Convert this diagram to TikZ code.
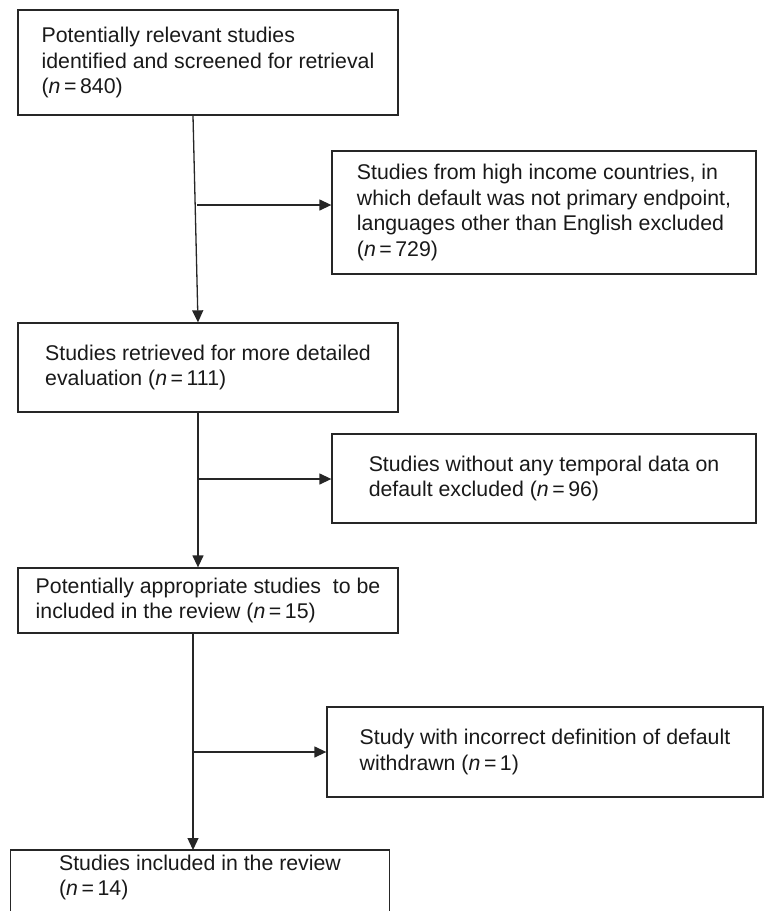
\documentclass[tikz,border=0pt]{standalone}
\usepackage{fontspec}
\setmainfont{Liberation Sans}
\usetikzlibrary{arrows.meta,calc}
\begin{document}
\begin{tikzpicture}[x=1pt,y=-1pt,
  every node/.style={font=\fontsize{21.3}{25.7}\selectfont, text=black!90},
  box/.style={draw=black!85, line width=1.3pt, align=left, inner sep=0pt},
  arr/.style={draw=black!85, line width=1.3pt, -{Triangle[length=12pt,width=11pt]}},
  conn/.style={draw=black!85, line width=1.3pt}]
\useasboundingbox (0,0) rectangle (765,911);
\clip (0,0) rectangle (765,911);
\node[box, minimum width=380pt, minimum height=105pt] (b1) at (208,62.5)
  {Potentially relevant studies\\identified and screened for retrieval\\(\textit{n}\,=\,840)};
\node[box, minimum width=424pt, minimum height=123pt] (e1) at (544,212.5)
  {Studies from high income countries, in\\which default was not primary endpoint,\\languages other than English excluded\\(\textit{n}\,=\,729)};
\node[box, minimum width=380pt, minimum height=89pt] (b2) at (208,367.5)
  {Studies retrieved for more detailed\\evaluation (\textit{n}\,=\,111)};
\node[box, minimum width=424pt, minimum height=89pt] (e2) at (544,478.5)
  {Studies without any temporal data on\\default excluded (\textit{n}\,=\,96)};
\node[box, minimum width=380pt, minimum height=65pt] (b3) at (208,600.5)
  {Potentially appropriate studies\ \ to be\\included in the review (\textit{n}\,=\,15)};
\node[box, minimum width=436pt, minimum height=90pt] (e3) at (545,752)
  {Study with incorrect definition of default\\withdrawn (\textit{n}\,=\,1)};
\node[align=left, inner xsep=0pt, inner ysep=4.5pt, minimum width=378pt, anchor=north] (b4) at (200,850)
  {Studies included in the review\\(\textit{n}\,=\,14)};
\draw[conn] (b4.north west) rectangle ($(b4.north east)+(0,120)$);
\draw[arr] ([xshift=-15pt]b1.south) -- ([xshift=-10pt]b2.north);
\coordinate (j1) at (197,205);
\draw[arr] (j1) -- (j1 -| e1.west);
\draw[arr] ([xshift=-10pt]b2.south) -- ([xshift=-10pt]b3.north);
\coordinate (j2) at (198,479);
\draw[arr] (j2) -- (j2 -| e2.west);
\draw[arr] ([xshift=-15pt]b3.south) -- ([xshift=-7pt]b4.north);
\coordinate (j3) at (193,752);
\draw[arr] (j3) -- (j3 -| e3.west);
\end{tikzpicture}
\end{document}
